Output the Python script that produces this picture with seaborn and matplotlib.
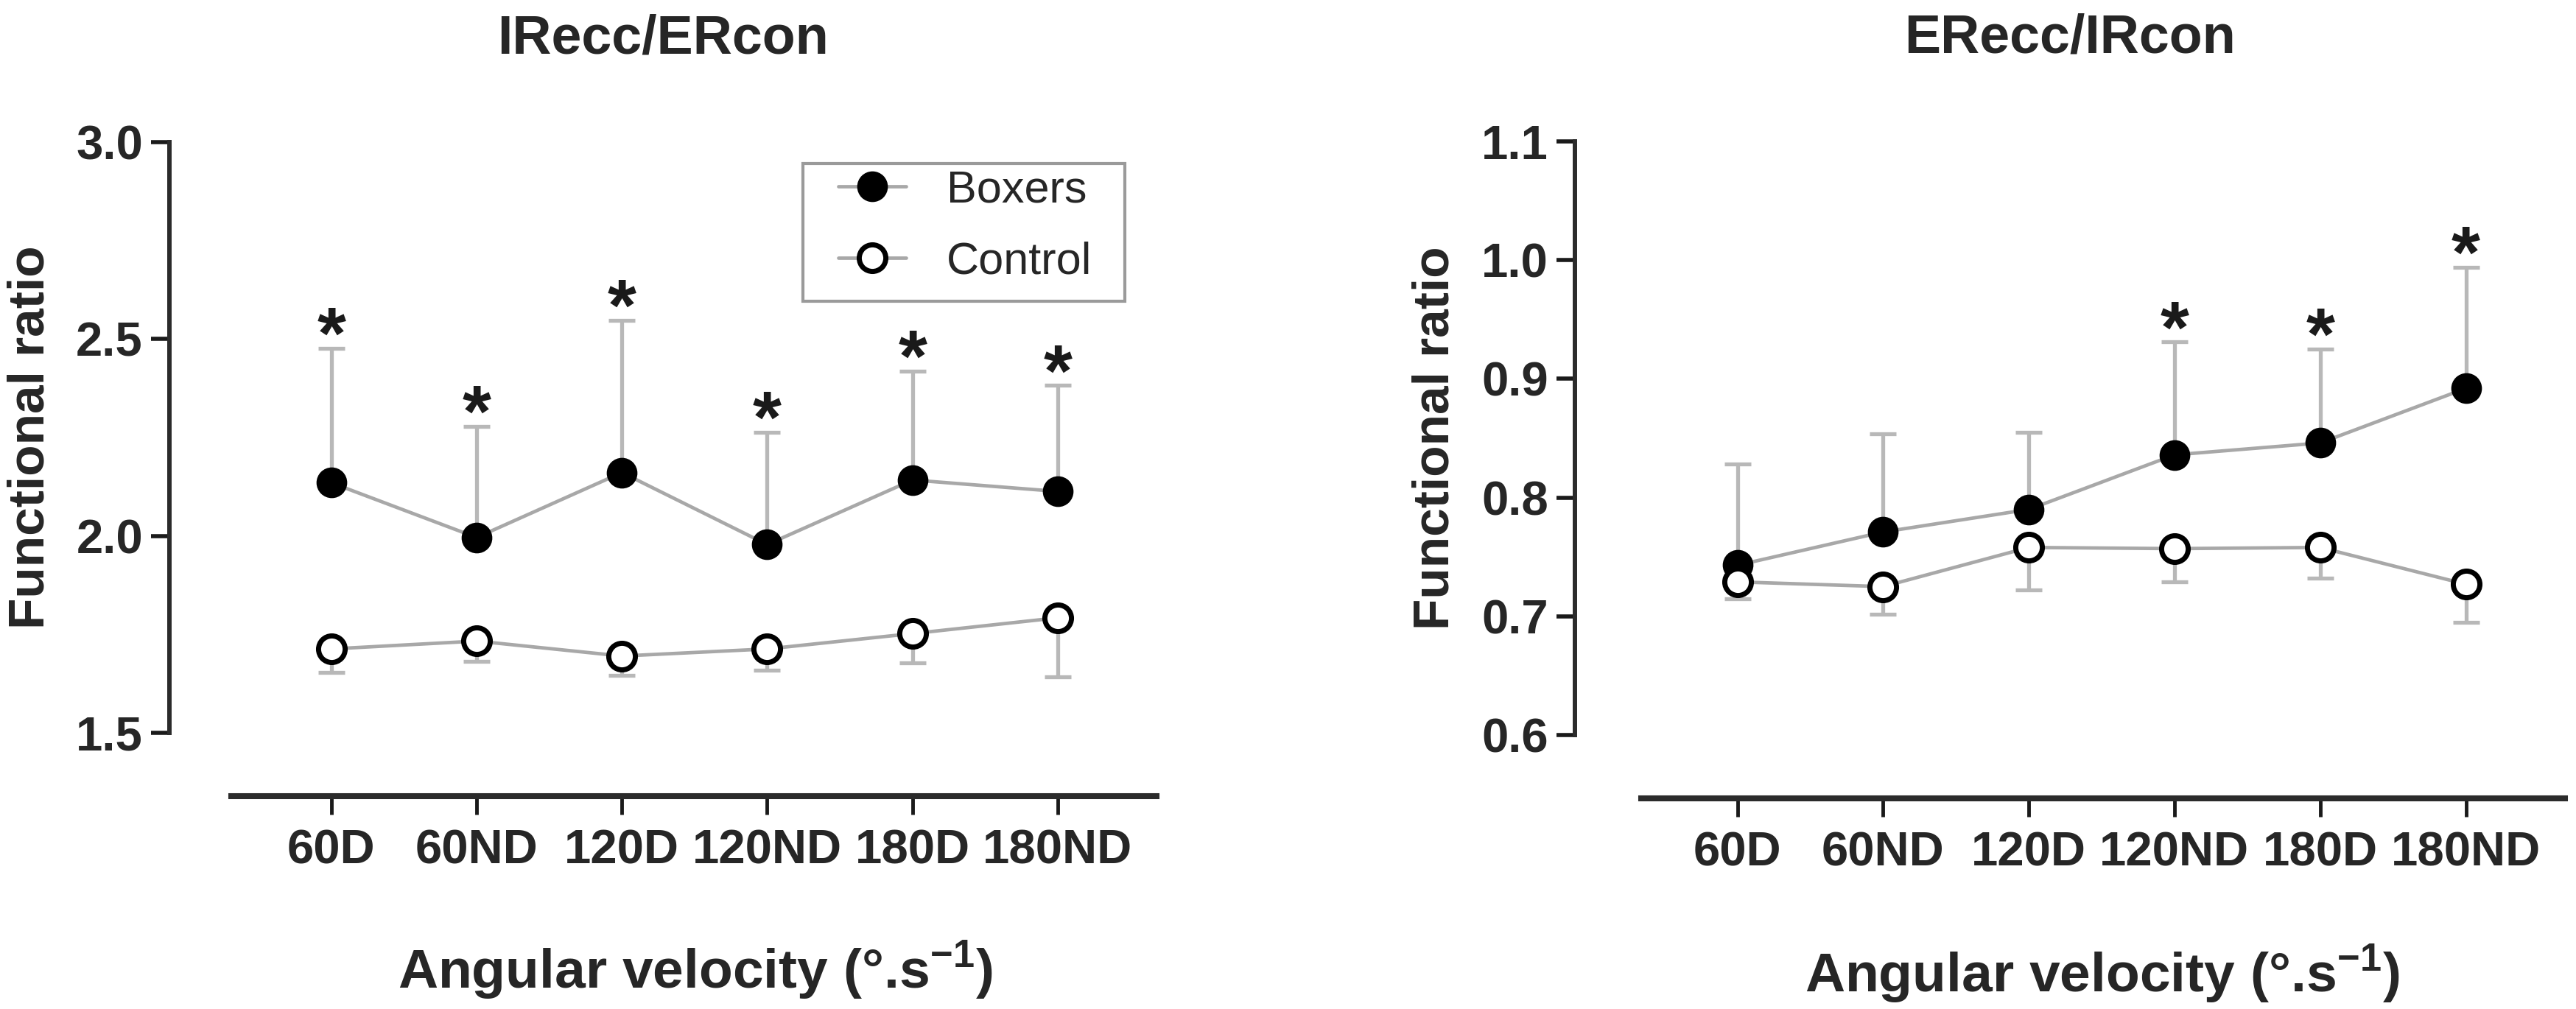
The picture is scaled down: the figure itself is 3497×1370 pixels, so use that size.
import numpy as np
import pandas as pd
import matplotlib
matplotlib.use('Agg')
import matplotlib.pyplot as plt
from matplotlib.patches import Rectangle
import seaborn as sns

# dados (media e desvio, barras de erro unilaterais)
categorias = ['60D', '60ND', '120D', '120ND', '180D', '180ND']

boxers_ir = [2.135, 1.996, 2.161, 1.978, 2.142, 2.113]
boxers_ir_sd = [0.342, 0.282, 0.386, 0.286, 0.276, 0.269]
control_ir = [1.713, 1.733, 1.695, 1.713, 1.752, 1.792]
control_ir_sd = [0.059, 0.052, 0.050, 0.054, 0.075, 0.149]
sig_ir = [True, True, True, True, True, True]

boxers_er = [0.743, 0.771, 0.790, 0.836, 0.846, 0.892]
boxers_er_sd = [0.085, 0.083, 0.065, 0.095, 0.079, 0.102]
control_er = [0.729, 0.725, 0.758, 0.757, 0.758, 0.727]
control_er_sd = [0.014, 0.023, 0.036, 0.028, 0.026, 0.032]
sig_er = [False, False, False, True, True, True]

sns.set_style('ticks')
plt.rcParams['font.family'] = ['Liberation Sans', 'DejaVu Sans']
plt.rcParams['mathtext.fontset'] = 'custom'
plt.rcParams['mathtext.rm'] = 'Liberation Sans'
plt.rcParams['mathtext.bf'] = 'Liberation Sans:bold'

W, H = 3497, 1370
fig = plt.figure(figsize=(W / 100, H / 100), dpi=100)

linha_cinza = '#a8a8a8'
erro_cinza = '#b8b8b8'


def painel(pos_px, titulo, ylim, yticks, boxers, boxers_sd, control, control_sd, sig, xbounds, legenda=False):
    x0, y_top, x1, y_bot = pos_px
    ax = fig.add_axes([x0 / W, 1 - y_bot / H, (x1 - x0) / W, (y_bot - y_top) / H])
    pos = np.arange(len(categorias))
    df = pd.DataFrame({
        'pos': np.concatenate([pos, pos]),
        'ratio': boxers + control,
        'grupo': ['Boxers'] * len(pos) + ['Control'] * len(pos),
    })

    # barras de erro: boxers para cima, controle para baixo
    ax.errorbar(pos, boxers, yerr=[np.zeros(len(pos)), boxers_sd], fmt='none',
                ecolor=erro_cinza, elinewidth=3.8, capsize=13, capthick=3.8, zorder=1)
    ax.errorbar(pos, control, yerr=[control_sd, np.zeros(len(pos))], fmt='none',
                ecolor=erro_cinza, elinewidth=3.8, capsize=13, capthick=3.8, zorder=1)

    sns.lineplot(data=df[df['grupo'] == 'Boxers'], x='pos', y='ratio', ax=ax,
                 color=linha_cinza, linewidth=3.4, marker='o', markersize=29,
                 markerfacecolor='black', markeredgecolor='black', markeredgewidth=1,
                 label='Boxers', zorder=3)
    sns.lineplot(data=df[df['grupo'] == 'Control'], x='pos', y='ratio', ax=ax,
                 color=linha_cinza, linewidth=3.4, marker='o', markersize=26,
                 markerfacecolor='white', markeredgecolor='black', markeredgewidth=5,
                 label='Control', zorder=4)

    # asteriscos de significancia
    for i, s in enumerate(sig):
        if s:
            ax.annotate('*', xy=(i, boxers[i] + boxers_sd[i]), xytext=(0, -10),
                        textcoords='offset points', ha='center', va='baseline',
                        fontsize=72, fontweight='bold', color='#1a1a1a')

    ax.set_xlim(-1.115, 5.68)
    ax.set_ylim(*ylim)
    ax.set_yticks(yticks)
    ax.set_yticklabels([f'{t:.1f}' for t in yticks])
    ax.set_xticks(pos)
    ax.set_xticklabels(categorias)

    sns.despine(ax=ax)
    ax.spines['left'].set_linewidth(4.3)
    ax.spines['left'].set_color('#2b2b2b')
    ax.spines['bottom'].set_linewidth(5.8)
    ax.spines['bottom'].set_color('#2b2b2b')
    ax.spines['bottom'].set_position(('outward', 62))
    ax.spines['bottom'].set_bounds(*xbounds)

    ax.tick_params(axis='y', length=18, width=4, color='#1a1a1a', pad=8, labelsize=47)
    ax.tick_params(axis='x', length=18, width=3.5, color='#1a1a1a', pad=14, labelsize=47)
    for lb in ax.get_xticklabels() + ax.get_yticklabels():
        lb.set_fontweight('bold')

    ax.set_ylabel('Functional ratio', fontsize=50, fontweight='bold')
    ax.yaxis.label.set_va('center')
    ax.yaxis.set_label_coords(-0.141, 0.5)
    ax.set_xlabel('Angular velocity (°.s$^{\\mathbf{-1}}$)', fontsize=54, fontweight='bold')
    ax.xaxis.label.set_va('center')
    ax.xaxis.set_label_coords(0.533, -0.403)
    ax.set_title(titulo, fontsize=53, fontweight='bold', y=1.174, va='center', pad=0)

    if legenda:
        ax.legend(loc='center left', bbox_to_anchor=(0.6776, 0.857), frameon=False,
                  fontsize=44, handlelength=1.5, handletextpad=0.9,
                  labelspacing=0.66, borderpad=0, borderaxespad=0)
        ax.add_patch(Rectangle((0.6418, 0.7307), 0.3261, 0.2331, transform=ax.transAxes,
                               fill=False, edgecolor='#9a9a9a', linewidth=3,
                               clip_on=False, zorder=5))
    else:
        leg = ax.get_legend()
        if leg is not None:
            leg.remove()
    return ax


painel((230, 193, 1570, 995), 'IRecc/ERcon', (1.5, 3.0), [1.5, 2.0, 2.5, 3.0],
       boxers_ir, boxers_ir_sd, control_ir, control_ir_sd, sig_ir, (-0.69, 5.68), legenda=True)
painel((2138, 192, 3482, 998), 'ERecc/IRcon', (0.6, 1.1), [0.6, 0.7, 0.8, 0.9, 1.0, 1.1],
       boxers_er, boxers_er_sd, control_er, control_er_sd, sig_er, (-0.66, 5.68))

fig.savefig('out.png', dpi=100, facecolor='white')
